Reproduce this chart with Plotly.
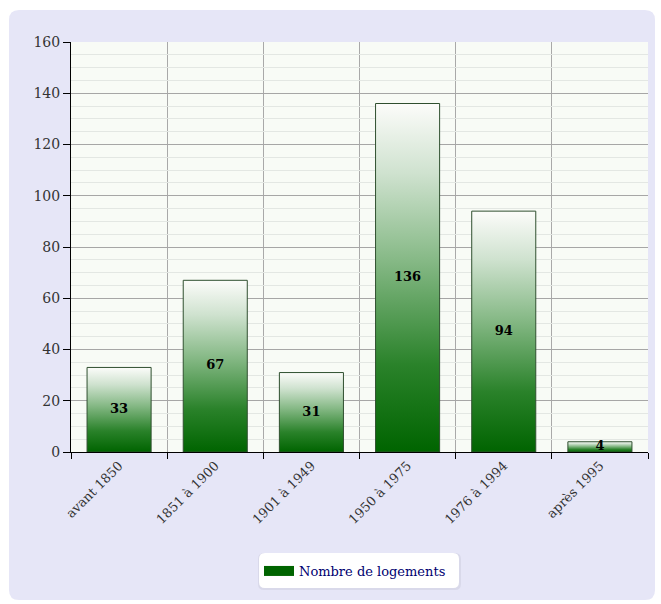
import plotly.graph_objects as go

# Housing stock by construction period
categories = ["avant 1850", "1851 à 1900", "1901 à 1949", "1950 à 1975", "1976 à 1994", "après 1995"]
logements = [33, 67, 31, 136, 94, 4]
series_name = "Nombre de logements"
y_ticks = [0, 20, 40, 60, 80, 100, 120, 140, 160]

W, H = 661, 604
ML, MR, MT, MB = 71, 13, 42, 152
PW, PH = W - ML - MR, H - MT - MB

SERIF = "DejaVu Serif, serif"
BAR_HALF = 0.333
GRADIENT = [[0.0, "#006400"], [0.25, "#2a822a"], [0.55, "#86b986"], [0.8, "#cfe2cf"], [1.0, "#fcfcfa"]]


def px_x(px):
    return (px - ML) / PW


def px_y(py):
    return (H - MB - py) / PH


def rounded_rect(x0, y0, x1, y1, r):
    """SVG path (paper units) for a rectangle given in pixels with rounded corners."""
    rx, ry = r / PW, r / PH
    a, b, c, d = px_x(x0), px_x(x1), px_y(y1), px_y(y0)  # left, right, bottom, top
    return (f"M{a + rx},{d} L{b - rx},{d} Q{b},{d} {b},{d - ry} "
            f"L{b},{c + ry} Q{b},{c} {b - rx},{c} L{a + rx},{c} "
            f"Q{a},{c} {a},{c + ry} L{a},{d - ry} Q{a},{d} {a + rx},{d} Z")


fig = go.Figure()

# Gradient-filled bars, one closed polygon per category
for i, v in enumerate(logements):
    fig.add_trace(go.Scatter(
        x=[i - BAR_HALF, i - BAR_HALF, i + BAR_HALF, i + BAR_HALF, i - BAR_HALF],
        y=[0, v, v, 0, 0],
        mode="lines",
        fill="toself",
        fillgradient=dict(type="vertical", colorscale=GRADIENT, start=0, stop=v),
        line=dict(color="#2f4f2f", width=1),
        hoverinfo="skip",
        showlegend=False,
    ))

# Value labels in the middle of each bar
fig.add_trace(go.Scatter(
    x=list(range(len(categories))),
    y=[v / 2 for v in logements],
    mode="text",
    text=[str(v) for v in logements],
    textposition="middle center",
    textfont=dict(family=SERIF, size=13, color="#000000", weight="bold"),
    hoverinfo="skip",
    showlegend=False,
))

# Legend entry
fig.add_trace(go.Scatter(
    x=[None], y=[None],
    mode="lines",
    line=dict(color="#006400", width=12),
    name=series_name,
    showlegend=True,
))

shapes = [
    # outer panel
    dict(type="path", xref="paper", yref="paper", layer="below",
         path=rounded_rect(9, 10, 655, 600, 10),
         fillcolor="#e6e6f7", line=dict(width=0)),
    # plot area background
    dict(type="rect", xref="paper", yref="paper", layer="below",
         x0=0, x1=1, y0=0, y1=1, fillcolor="#f8fbf6", line=dict(width=0)),
    # legend shadow and box
    dict(type="path", xref="paper", yref="paper", layer="below",
         path=rounded_rect(258, 553, 461, 590, 6),
         fillcolor="#d9d9ea", line=dict(width=0)),
    dict(type="path", xref="paper", yref="paper", layer="below",
         path=rounded_rect(259, 553, 459, 588, 6),
         fillcolor="#ffffff", line=dict(width=0)),
]

fig.update_layout(
    width=W, height=H,
    margin=dict(l=ML, r=MR, t=MT, b=MB),
    paper_bgcolor="#ffffff",
    plot_bgcolor="rgba(0,0,0,0)",
    shapes=shapes,
    showlegend=True,
    legend=dict(
        orientation="h",
        x=px_x(355), xanchor="center",
        y=px_y(571), yanchor="middle",
        bgcolor="rgba(0,0,0,0)",
        borderwidth=0,
        font=dict(family=SERIF, size=13, color="#000070"),
        itemwidth=30,
    ),
    xaxis=dict(
        range=[-0.5, len(categories) - 0.5],
        tickmode="array",
        tickvals=list(range(len(categories))),
        ticktext=categories,
        tickangle=-45,
        ticks="",
        showgrid=False,
        zeroline=False,
        showline=True, linecolor="#000000", linewidth=1,
        tickfont=dict(family=SERIF, size=13, color="#333333"),
        minor=dict(
            tickmode="array",
            tickvals=[k - 0.5 for k in range(len(categories) + 1)],
            ticks="outside", ticklen=6, tickcolor="#000000", tickwidth=1,
            showgrid=True, gridcolor="#a9a9a9", gridwidth=1,
        ),
        fixedrange=True,
    ),
    yaxis=dict(
        range=[0, 160],
        tickmode="array",
        tickvals=y_ticks,
        ticks="outside", ticklen=7, tickcolor="#000000", tickwidth=1,
        showgrid=True, gridcolor="#a6a6a6", gridwidth=1,
        zeroline=False,
        showline=True, linecolor="#000000", linewidth=1,
        tickfont=dict(family=SERIF, size=14, color="#333333"),
        minor=dict(dtick=5, showgrid=True, gridcolor="#e3e7e3", gridwidth=1, ticks=""),
        fixedrange=True,
    ),
)

fig.write_html("out.html")
